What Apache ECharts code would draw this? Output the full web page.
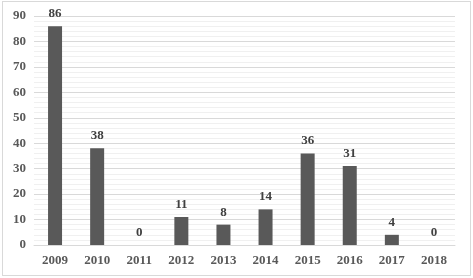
<!DOCTYPE html>
<html><head><meta charset="utf-8">
<script src="https://cdn.jsdelivr.net/npm/echarts@6/dist/echarts.min.js"></script>
<style>html,body{margin:0;padding:0;background:#fff}#c{box-sizing:border-box;border:1px solid #d9d9d9;position:absolute;left:2px;top:1px;width:469px;height:275px}</style>
</head><body><div id="c"></div>
<script>
const categories = ['2009','2010','2011','2012','2013','2014','2015','2016','2017','2018'];
const values = [86,38,0,11,8,14,36,31,4,0];
const chart = echarts.init(document.getElementById('c'));
const font = '"Liberation Serif", "Times New Roman", serif';
chart.setOption({
  animation:false,
  grid:{left:31,right:15,top:14,bottom:30},
  xAxis:{type:'category',data:categories,
    axisLine:{lineStyle:{color:'#d9d9d9'}},axisTick:{show:false},
    axisLabel:{color:'#595959',fontFamily:font,fontWeight:'bold',fontSize:13,margin:9}},
  yAxis:{type:'value',min:0,max:90,interval:10,
    axisLine:{show:false},axisTick:{show:false},
    axisLabel:{color:'#595959',fontFamily:font,fontWeight:'bold',fontSize:13,margin:8},
    splitLine:{lineStyle:{color:'#d9d9d9'}},
    minorTick:{show:false,splitNumber:5},
    minorSplitLine:{show:true,lineStyle:{color:'#f0f0f0'}}},
  series:[{type:'bar',data:values,barWidth:14,itemStyle:{color:'#595959'},
    label:{show:true,position:'top',color:'#404040',fontFamily:font,fontWeight:'bold',fontSize:13,distance:6}}]
});
</script></body></html>
